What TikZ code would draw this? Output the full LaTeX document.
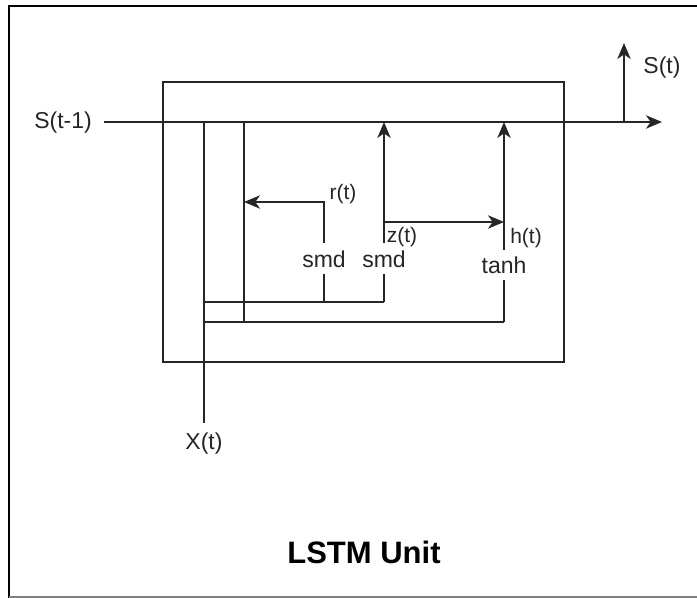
\documentclass[tikz,border=0pt]{standalone}
\usepackage{fontspec}
\setmainfont{Liberation Sans}
\usetikzlibrary{arrows.meta}
\begin{document}
\begin{tikzpicture}[x=0.75pt,y=-0.75pt,
  wire/.style={line width=1.4pt, black!85},
  arr/.style={wire,-{Stealth[length=12pt,width=10pt,inset=3.5pt]}},
  lbl/.style={font=\fontsize{17.25}{20}\selectfont, inner sep=0pt, text=black!85},
  sml/.style={font=\fontsize{15.75}{18}\selectfont, inner sep=0pt, text=black!85},
  ttl/.style={font=\fontsize{23.25}{28}\selectfont\bfseries, inner sep=0pt},
  unitbox/.style={draw, line width=1.4pt, black!85, minimum width=300.75pt, minimum height=210pt, inner sep=0pt}]
\useasboundingbox (0,0) rectangle (697,598);
% frame of the screenshot
\draw[line width=2.2pt] (9,598) -- (9,6) -- (697,6);
\draw[gray, line width=1pt] (9,597) -- (697,597);
% unit box
\node[unitbox] (unit) at (363.5,222) {};
% coordinates
\coordinate (sin) at (104,122);
\coordinate (sout) at (662,122);
\coordinate (sbr) at (624,122);
\coordinate (stop) at (624,43);
\coordinate (xtop) at (204,122);
\coordinate (xbot) at (204,423);
\coordinate (rtop) at (244,122);
\coordinate (rbot) at (244,322);
\coordinate (ra) at (244,202);
\coordinate (rc) at (324,202);
\coordinate (g1t) at (324,243);
\coordinate (g1b) at (324,274);
\coordinate (g1l) at (324,302);
\coordinate (h1l) at (204,302);
\coordinate (g2t) at (384,243);
\coordinate (g2b) at (384,274);
\coordinate (g2l) at (384,302);
\coordinate (ztop) at (384,122);
\coordinate (zbr) at (384,222);
\coordinate (hbr) at (504,222);
\coordinate (g3t) at (504,250);
\coordinate (g3b) at (504,280);
\coordinate (g3l) at (504,322);
\coordinate (htop) at (504,122);
\coordinate (h2l) at (204,322);
% text
\node[lbl] (sprev) at (63,123) {S(t-1)};
\node[lbl] (snext) at (662,68) {S(t)};
\node[lbl] (xt) at (204,444) {X(t)};
\node[sml] (rlab) at (343,194) {r(t)};
\node[sml] (zlab) at (402,237) {z(t)};
\node[sml] (hlab) at (526,238) {h(t)};
\node[lbl] (smd1) at (324,259) {smd};
\node[lbl] (smd2) at (384,259) {smd};
\node[lbl] (tanh) at (504,265) {tanh};
\node[ttl] (title) at (364,552) {LSTM Unit};
% connectors
\draw[arr] (sin) -- (sout);
\draw[arr] (sbr) -- (stop);
\draw[wire] (xtop) -- (xbot);
\draw[wire] (rtop) -- (rbot);
\draw[wire] (h1l) -- (g2l);
\draw[wire] (h2l) -- (g3l);
\draw[wire] (g1b) -- (g1l);
\draw[wire] (g2b) -- (g2l);
\draw[wire] (g3b) -- (g3l);
\draw[arr] (g1t) -- (rc) -- (ra);
\draw[arr] (g2t) -- (ztop);
\draw[arr] (zbr) -- (hbr);
\draw[arr] (g3t) -- (htop);
\end{tikzpicture}
\end{document}
